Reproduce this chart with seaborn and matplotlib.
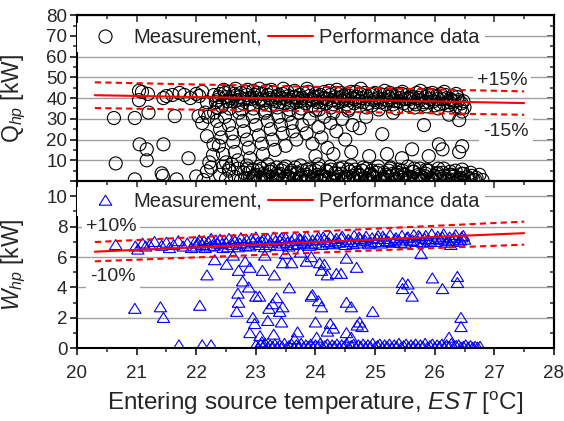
import numpy as np
import pandas as pd
import seaborn as sns
import matplotlib.pyplot as plt
from matplotlib.lines import Line2D
from matplotlib.ticker import MultipleLocator

q_meas_left = [(20.62, 30.4), (20.65, 8.5), (20.97, 30.4), (21.04, 43.5), (21.09, 43.0), (21.19, 42.0),
               (21.04, 39.0), (21.05, 17.7), (21.17, 15.3), (21.17, 10.0), (21.20, 33.0), (20.97, 0.8),
               (21.45, 17.7), (21.45, 40.0), (21.50, 41.0), (21.42, 3.7), (21.44, 2.5), (21.64, 31.3),
               (21.67, 0.8), (21.87, 11.0), (21.60, 41.5), (21.80, 41.5), (21.90, 40.0), (22.00, 42.0),
               (22.04, 31.3), (22.10, 28.0), (22.15, 33.0), (22.18, 4.7), (22.00, 2.2), (22.20, 31.0),
               (22.18, 21.6), (22.05, 41.0), (22.10, 43.0), (22.18, 38.0), (21.72, 42.5), (22.22, 9.0),
               (22.29, 17.7), (22.25, 6.5), (22.28, 12.5), (22.12, 0.5)]

q_meas_band = [(22.30, 41.5), (22.35, 39.0), (22.40, 42.0), (22.45, 37.5), (22.50, 40.5), (22.55, 43.0),
               (22.60, 38.5), (22.65, 41.0), (22.70, 36.5), (22.75, 42.5), (22.80, 39.5), (22.85, 41.5),
               (22.90, 37.0), (22.95, 43.5), (23.00, 40.0), (23.05, 38.0), (23.10, 42.0), (23.15, 39.0),
               (23.20, 41.5), (23.25, 36.5), (23.30, 43.0), (23.35, 40.5), (23.40, 38.0), (23.45, 42.0),
               (23.50, 39.5), (23.55, 41.0), (23.60, 37.0), (23.65, 43.5), (23.70, 40.0), (23.75, 38.5),
               (23.80, 42.5), (23.85, 39.0), (23.90, 41.0), (23.95, 36.5), (24.00, 42.0), (24.05, 40.5),
               (24.10, 38.0), (24.15, 43.0), (24.20, 39.5), (24.25, 41.5), (24.30, 37.0), (24.35, 42.5),
               (24.40, 40.0), (24.45, 38.5), (24.50, 41.5), (24.55, 39.0), (24.60, 43.0), (24.65, 37.5),
               (24.70, 40.5), (24.75, 42.0), (24.80, 38.0), (24.85, 41.0), (24.90, 39.5), (24.95, 36.5),
               (25.00, 42.5), (25.05, 40.0), (25.10, 38.0), (25.15, 41.5), (25.20, 39.0), (25.25, 42.5),
               (25.30, 37.0), (25.35, 40.5), (25.40, 38.5), (25.45, 42.0), (25.50, 39.5), (25.55, 36.5),
               (25.60, 41.0), (25.65, 38.0), (25.70, 42.5), (25.75, 39.0), (25.80, 37.0), (25.85, 40.5),
               (25.90, 38.0), (25.95, 41.5), (26.00, 36.5), (26.05, 39.5), (26.10, 42.0), (26.15, 37.5),
               (26.20, 40.0), (26.25, 38.0), (26.30, 41.0), (26.35, 36.0), (26.40, 39.0), (26.45, 37.5),
               (26.50, 35.5),
               (22.33, 38.0), (22.38, 40.5), (22.43, 36.0), (22.48, 42.5), (22.53, 38.5), (22.58, 40.0),
               (22.63, 42.0), (22.68, 39.0), (22.73, 40.5), (22.78, 37.5), (22.83, 43.0), (22.88, 40.0),
               (22.93, 39.5), (22.98, 41.5), (23.03, 42.5), (23.08, 39.5), (23.13, 37.5), (23.18, 43.5),
               (23.23, 40.0), (23.28, 39.5), (23.33, 38.5), (23.38, 41.5), (23.43, 40.0), (23.48, 37.5),
               (23.53, 43.0), (23.58, 39.0), (23.63, 40.5), (23.68, 38.0), (23.73, 41.5), (23.78, 40.0),
               (23.83, 37.5), (23.88, 43.0), (23.93, 39.5), (23.98, 40.5), (24.03, 38.0), (24.08, 41.5),
               (24.13, 40.0), (24.18, 37.5), (24.23, 43.5), (24.28, 39.0), (24.33, 40.5), (24.38, 38.0),
               (24.43, 42.5), (24.48, 39.5), (24.53, 37.0), (24.58, 41.0), (24.63, 40.0), (24.68, 43.0),
               (24.73, 38.5), (24.78, 40.0), (24.83, 42.5), (24.88, 37.5), (24.93, 41.5), (24.98, 39.0),
               (25.03, 38.0), (25.08, 42.0), (25.13, 39.5), (25.18, 37.0), (25.23, 40.5), (25.28, 41.5),
               (25.33, 38.5), (25.38, 42.0), (25.43, 40.0), (25.48, 37.5), (25.53, 41.5), (25.58, 39.5),
               (25.63, 40.5), (25.68, 37.0), (25.73, 40.0), (25.78, 41.5), (25.83, 38.0), (25.88, 42.0),
               (25.93, 39.5), (25.98, 38.5), (26.03, 41.0), (26.08, 37.0), (26.13, 39.5), (26.18, 41.5),
               (26.23, 36.5), (26.28, 39.0), (26.33, 38.5), (26.38, 40.5), (26.43, 35.0), (26.48, 38.5),
               (22.36, 35.5), (22.46, 44.0), (22.56, 35.0), (22.66, 44.5), (22.76, 34.5), (22.86, 44.0),
               (22.96, 35.0), (23.06, 44.5), (23.16, 34.0), (23.26, 44.0), (23.36, 35.5), (23.46, 44.5),
               (23.56, 34.5), (23.66, 40.5), (23.76, 35.0), (23.86, 44.5), (23.96, 39.0), (24.06, 34.5),
               (24.16, 40.0), (24.26, 35.5), (24.36, 44.0), (24.46, 41.0), (24.56, 35.0), (24.66, 39.5),
               (24.76, 44.5), (24.86, 35.5), (24.96, 42.0), (25.06, 34.5), (25.16, 43.5), (25.26, 39.5),
               (25.36, 35.0), (25.46, 43.0), (25.56, 40.0), (25.66, 35.5), (25.76, 43.5), (25.86, 36.0),
               (25.96, 42.5), (26.06, 35.0), (26.16, 43.0), (26.26, 39.5), (26.36, 42.0), (26.46, 33.5)]

q_meas_mid = [(22.30, 33), (22.35, 29), (22.40, 25), (22.42, 21), (22.38, 17), (22.45, 13), (22.50, 9),
              (22.55, 6), (22.48, 31), (22.55, 27), (22.60, 23), (22.62, 19), (22.65, 14), (22.70, 10),
              (22.72, 33), (22.78, 29), (22.80, 24), (22.85, 20), (22.88, 16), (22.90, 11), (22.95, 31),
              (23.00, 27), (23.05, 22), (23.10, 18), (23.12, 13), (23.15, 33), (23.20, 29), (23.25, 25),
              (23.28, 20), (23.32, 15), (23.38, 31), (23.42, 27), (23.45, 23), (23.50, 17), (23.55, 32),
              (23.60, 28), (23.62, 24), (23.68, 20), (23.72, 33), (23.78, 27), (23.85, 23), (23.90, 30),
              (23.95, 18), (24.00, 34), (24.05, 26), (24.10, 21), (24.15, 31), (24.20, 16), (24.25, 28),
              (24.30, 33), (24.35, 24), (24.45, 30), (24.50, 20), (24.55, 34), (24.62, 27), (24.74, 25.5),
              (24.85, 31), (25.12, 22.6), (25.30, 33), (25.82, 27), (26.41, 29.4), (26.24, 32),
              (26.46, 16.8), (26.41, 14), (26.13, 15.3), (25.62, 15.3), (25.90, 12), (26.07, 17.7),
              (25.45, 11), (25.20, 13), (24.90, 12), (24.60, 14), (24.30, 13), (24.00, 12)]

q_meas_low = [(22.40, 3), (22.45, 7), (22.50, 1), (22.55, 5), (22.60, 8), (22.65, 2), (22.70, 6),
              (22.75, 0.5), (22.80, 4), (22.85, 7.5), (22.90, 1.5), (22.95, 5.5), (23.00, 3), (23.05, 0),
              (23.10, 6), (23.15, 2.5), (23.20, 8), (23.25, 4.5), (23.30, 1), (23.35, 6.5), (23.40, 3.5),
              (23.45, 0.5), (23.50, 7), (23.55, 2), (23.60, 5), (23.65, 1), (23.70, 4), (23.75, 7.5),
              (23.80, 0), (23.85, 3), (23.90, 6), (23.95, 1.5), (24.00, 5), (24.05, 8), (24.10, 2.5),
              (24.15, 0.5), (24.20, 4.5), (24.25, 7), (24.30, 1), (24.35, 3.5), (24.40, 6), (24.45, 0),
              (24.50, 2), (24.55, 5.5), (24.60, 7.5), (24.65, 1), (24.70, 4), (24.75, 2.5), (24.80, 6.5),
              (24.85, 0.5), (24.90, 3), (24.95, 5), (25.00, 1.5), (25.05, 7), (25.10, 0), (25.15, 4),
              (25.20, 2), (25.25, 6), (25.30, 3.5), (25.35, 1), (25.40, 5.5), (25.45, 0.5), (25.50, 3),
              (25.55, 7), (25.60, 2), (25.65, 4.5), (25.70, 0), (25.75, 6), (25.80, 1.5), (25.85, 3.5),
              (25.90, 5), (25.95, 0.5), (26.00, 2.5), (26.05, 4), (26.10, 1), (26.15, 6), (26.20, 0),
              (26.25, 3), (26.30, 2), (26.35, 5), (26.40, 1), (26.45, 3.5), (26.50, 0), (26.55, 2),
              (26.60, 4), (26.65, 0.5), (26.70, 1.5), (26.75, 3), (26.80, 0.5),
              (22.82, 1), (22.88, 4), (22.93, 0), (22.98, 2.5), (23.03, 5), (23.08, 1.5), (23.13, 3.5),
              (23.18, 0.5), (23.23, 4.5), (23.28, 2), (23.33, 0), (23.38, 3), (23.43, 5), (23.48, 1),
              (23.53, 2.5), (23.58, 4), (23.63, 0.5), (23.68, 3.5), (23.73, 1.5), (23.78, 5), (23.83, 0),
              (23.88, 2), (23.93, 4.5), (23.98, 1), (24.03, 3), (24.08, 0.5), (24.13, 2.5), (24.18, 5),
              (24.23, 1.5), (24.28, 0), (24.33, 4), (24.38, 2), (24.43, 3.5), (24.48, 0.5), (24.53, 1),
              (24.58, 4.5), (24.63, 2.5), (24.68, 0), (24.73, 3), (24.78, 5), (24.83, 1.5), (24.88, 0.5),
              (24.93, 3.5), (24.98, 2), (25.03, 4), (25.08, 0), (25.13, 1), (25.18, 3), (25.23, 5),
              (25.28, 2.5), (25.33, 0.5), (25.38, 4), (25.43, 1.5), (25.48, 3.5), (25.53, 0), (25.58, 2),
              (25.63, 4.5), (25.68, 1), (25.73, 3), (25.78, 0.5), (25.83, 2.5), (25.88, 5), (25.93, 1.5),
              (25.98, 0), (26.03, 3.5), (26.08, 2), (26.13, 4), (26.18, 0.5), (26.23, 1), (26.28, 3),
              (26.33, 2.5), (26.38, 0), (26.43, 1.5), (26.48, 3.5), (26.58, 1), (26.68, 0.5),
              (22.86, 6), (22.96, 2), (23.06, 7), (23.16, 1), (23.26, 5.5), (23.36, 2.5), (23.46, 6),
              (23.56, 1), (23.66, 6.5), (23.76, 2.5), (23.86, 5.5), (23.96, 0.5), (24.06, 6), (24.16, 2),
              (24.26, 5.5), (24.36, 0.5), (24.46, 6.5), (24.56, 2), (24.66, 5.5), (24.76, 1), (24.86, 6),
              (24.96, 2.5), (25.06, 5), (25.16, 1), (25.26, 6.5), (25.36, 3), (25.46, 5), (25.56, 1.5),
              (25.66, 6), (25.76, 2.5), (25.86, 5.5), (25.96, 1), (26.06, 6), (26.16, 2.5), (26.26, 4.5),
              (26.36, 1), (26.46, 5.5), (26.62, 2.5)]

# ---- measured power input W_hp [kW] ----
w_meas_left = [(20.65, 6.8), (20.98, 6.7), (21.02, 6.5), (21.10, 6.9), (21.15, 6.7), (21.22, 6.8),
               (21.30, 7.0), (21.42, 6.75), (21.50, 6.95), (21.55, 6.6), (21.62, 6.8), (21.70, 7.05),
               (21.78, 6.7), (21.85, 6.9), (21.92, 6.6), (21.98, 7.0)]

w_meas_band = [(22.00, 6.7), (22.05, 7.1), (22.10, 6.8), (22.15, 6.6), (22.20, 7.0), (22.25, 7.2),
               (22.30, 6.75), (22.35, 6.9), (22.40, 7.15), (22.45, 6.6), (22.50, 6.95), (22.55, 7.2),
               (22.60, 6.8), (22.65, 7.05), (22.70, 6.65), (22.75, 7.25), (22.80, 6.9), (22.85, 7.1),
               (22.90, 6.7), (22.95, 7.0), (23.00, 7.3), (23.05, 6.8), (23.10, 7.05), (23.15, 6.65),
               (23.20, 7.2), (23.25, 6.95), (23.30, 7.3), (23.35, 6.75), (23.40, 7.1), (23.45, 6.9),
               (23.50, 7.25), (23.55, 6.7), (23.60, 7.05), (23.65, 7.3), (23.70, 6.85), (23.75, 7.15),
               (23.80, 6.95), (23.85, 7.35), (23.90, 6.75), (23.95, 7.1), (24.00, 6.9), (24.05, 7.3),
               (24.10, 6.8), (24.15, 7.15), (24.20, 7.0), (24.25, 7.35), (24.30, 6.85), (24.35, 7.2),
               (24.40, 6.95), (24.45, 7.35), (24.50, 6.8), (24.55, 7.15), (24.60, 7.0), (24.65, 7.4),
               (24.70, 6.9), (24.75, 7.2), (24.80, 7.05), (24.85, 7.35), (24.90, 6.85), (24.95, 7.25),
               (25.00, 7.0), (25.05, 7.4), (25.10, 6.9), (25.15, 7.2), (25.20, 7.05), (25.25, 7.45),
               (25.30, 6.95), (25.35, 7.25), (25.40, 7.1), (25.45, 7.4), (25.50, 6.9), (25.55, 7.3),
               (25.60, 7.05), (25.65, 7.45), (25.70, 7.0), (25.75, 7.3), (25.80, 6.95), (25.85, 7.4),
               (25.90, 7.1), (25.95, 7.5), (26.00, 7.0), (26.05, 7.35), (26.10, 7.15), (26.15, 7.5),
               (26.20, 6.95), (26.25, 7.3), (26.30, 7.1), (26.35, 7.45), (26.40, 7.0), (26.45, 7.3),
               (26.50, 7.15),
               (22.03, 6.9), (22.13, 7.05), (22.23, 6.7), (22.33, 7.1), (22.43, 6.85), (22.53, 6.65),
               (22.63, 7.15), (22.73, 6.9), (22.83, 6.75), (22.93, 7.2), (23.03, 6.95), (23.13, 7.15),
               (23.23, 6.8), (23.33, 7.05), (23.43, 7.25), (23.53, 6.95), (23.63, 6.8), (23.73, 7.2),
               (23.83, 7.05), (23.93, 6.85), (24.03, 7.15), (24.13, 7.3), (24.23, 6.9), (24.33, 7.05),
               (24.43, 7.25), (24.53, 7.0), (24.63, 6.85), (24.73, 7.3), (24.83, 7.1), (24.93, 6.95),
               (25.03, 7.2), (25.13, 7.35), (25.23, 7.0), (25.33, 7.15), (25.43, 6.95), (25.53, 7.25),
               (25.63, 7.1), (25.73, 7.4), (25.83, 7.2), (25.93, 7.0), (26.03, 7.2), (26.13, 7.3),
               (26.23, 7.05), (26.33, 7.25), (26.43, 7.1), (26.48, 7.4), (26.27, 6.8)]

w_meas_mid = [(20.97, 2.6), (21.40, 2.7), (21.45, 2.0), (21.71, 0.2), (22.10, 0.2), (22.25, 0.2),
              (22.06, 2.8), (22.18, 4.8), (22.31, 5.8), (22.51, 5.5), (22.62, 6.1), (22.71, 5.1),
              (22.70, 3.6), (22.71, 3.0), (22.68, 2.4), (22.78, 4.4), (22.82, 5.7), (22.88, 4.0),
              (22.90, 5.3), (22.95, 2.0), (22.98, 1.6), (22.90, 1.0), (23.00, 3.4), (23.06, 3.4),
              (23.07, 0.8), (23.10, 0.4), (23.11, 5.1), (23.15, 6.1), (23.20, 1.8), (23.22, 2.6),
              (23.28, 2.9), (23.30, 0.9), (23.31, 4.8), (23.35, 3.3), (23.40, 2.4), (23.43, 1.7),
              (23.45, 2.7), (23.45, 5.6), (23.50, 6.2), (23.56, 3.95), (23.60, 5.6), (23.65, 0.6),
              (23.70, 1.05), (23.75, 6.3), (23.85, 5.7), (23.93, 6.0), (23.93, 3.4), (23.95, 3.5),
              (24.00, 1.7), (24.02, 0.7), (24.05, 3.1), (24.07, 5.6), (24.10, 2.7), (24.10, 5.1),
              (24.15, 5.5), (24.20, 4.8), (24.20, 1.1), (24.25, 1.6), (24.30, 1.3), (24.35, 4.9),
              (24.43, 4.9), (24.52, 5.9), (24.52, 3.0), (24.52, 1.0), (24.60, 2.7), (24.60, 0.7),
              (24.69, 5.3), (24.70, 1.5), (24.74, 1.7), (24.78, 1.4), (24.96, 2.4), (25.46, 4.3),
              (25.46, 3.9), (25.55, 4.2), (25.62, 3.4), (25.77, 6.2), (25.96, 4.6), (26.13, 3.9),
              (26.38, 4.7), (26.38, 4.3), (26.44, 2.0), (26.44, 1.4), (26.24, 0.7)]

w_meas_low = [(23.00, 0.2), (23.04, 0.05), (23.08, 0.25), (23.12, 0.1), (23.16, 0.3), (23.20, 0.05),
              (23.24, 0.2), (23.28, 0.1), (23.32, 0.25), (23.36, 0.05), (23.40, 0.2), (23.44, 0.1),
              (23.48, 0.3), (23.52, 0.05), (23.56, 0.15), (23.60, 0.25), (23.64, 0.05), (23.68, 0.2),
              (23.72, 0.1), (23.76, 0.3), (23.80, 0.05), (23.84, 0.2), (23.88, 0.1), (23.92, 0.25),
              (23.96, 0.05), (24.00, 0.2), (24.04, 0.1), (24.08, 0.3), (24.12, 0.05), (24.16, 0.15),
              (24.20, 0.25), (24.24, 0.05), (24.28, 0.2), (24.32, 0.1), (24.36, 0.25), (24.40, 0.05),
              (24.44, 0.2), (24.48, 0.1), (24.52, 0.3), (24.56, 0.05), (24.60, 0.15), (24.64, 0.25),
              (24.68, 0.05), (24.72, 0.2), (24.76, 0.1), (24.80, 0.25), (24.84, 0.05), (24.88, 0.2),
              (24.92, 0.1), (24.96, 0.3), (25.00, 0.05), (25.04, 0.15), (25.08, 0.25), (25.12, 0.05),
              (25.16, 0.2), (25.20, 0.1), (25.24, 0.25), (25.28, 0.05), (25.32, 0.2), (25.36, 0.1),
              (25.40, 0.3), (25.44, 0.05), (25.48, 0.15), (25.52, 0.25), (25.56, 0.05), (25.60, 0.2),
              (25.64, 0.1), (25.68, 0.25), (25.72, 0.05), (25.76, 0.2), (25.80, 0.1), (25.84, 0.3),
              (25.88, 0.05), (25.92, 0.15), (25.96, 0.25), (26.00, 0.05), (26.04, 0.2), (26.08, 0.1),
              (26.12, 0.25), (26.16, 0.05), (26.20, 0.2), (26.24, 0.1), (26.28, 0.3), (26.32, 0.05),
              (26.36, 0.15), (26.40, 0.2), (26.44, 0.05), (26.48, 0.1), (26.52, 0.2), (26.56, 0.05),
              (26.60, 0.15), (26.64, 0.05), (26.68, 0.1), (26.72, 0.05), (26.76, 0.1)]

# ---- performance data (manufacturer) ----
est_perf = [20.3, 22.0, 24.0, 26.0, 27.5]
q_perf = [41.4, 40.5, 39.5, 38.4, 37.6]
w_perf = [6.35, 6.64, 6.98, 7.32, 7.57]
q_band = 0.15
w_band = 0.10

xticks = [20, 21, 22, 23, 24, 25, 26, 27, 28]

df_q = pd.DataFrame(q_meas_left + q_meas_band + q_meas_mid + q_meas_low, columns=["EST", "Q"])
df_w = pd.DataFrame(w_meas_left + w_meas_band + w_meas_mid + w_meas_low, columns=["EST", "W"])
perf = pd.DataFrame({"EST": est_perf, "Q": q_perf, "W": w_perf})
perf["Q_hi"] = perf["Q"] * (1 + q_band)
perf["Q_lo"] = perf["Q"] * (1 - q_band)
perf["W_hi"] = perf["W"] * (1 + w_band)
perf["W_lo"] = perf["W"] * (1 - w_band)

sns.set_style("white")
plt.rcParams["font.family"] = ["Liberation Sans", "DejaVu Sans"]
plt.rcParams["mathtext.fontset"] = "custom"
plt.rcParams["mathtext.rm"] = "Liberation Sans"
plt.rcParams["mathtext.it"] = "Liberation Sans:italic"

tri = [(-1, -0.75), (1, -0.75), (0, 0.85), (-1, -0.75)]
dash = (0, (3, 2))

fig = plt.figure(figsize=(5.64, 4.21), dpi=100)
ax1 = fig.add_axes([0.1365, 0.570, 0.8457, 0.394])
ax2 = fig.add_axes([0.1365, 0.173, 0.8457, 0.397])

# top: heating capacity
sns.scatterplot(data=df_q, x="EST", y="Q", ax=ax1, marker="o", s=88,
                facecolors="none", edgecolor="black", linewidth=0.8, zorder=2)
sns.lineplot(data=perf, x="EST", y="Q", ax=ax1, color="red", lw=1.5, zorder=4)
sns.lineplot(data=perf, x="EST", y="Q_hi", ax=ax1, color="red", lw=1.5, ls=dash, zorder=4)
sns.lineplot(data=perf, x="EST", y="Q_lo", ax=ax1, color="red", lw=1.5, ls=dash, zorder=4)

# bottom: power input
sns.scatterplot(data=df_w, x="EST", y="W", ax=ax2, marker=tri, s=80,
                facecolors="none", edgecolor="blue", linewidth=0.8, zorder=2)
sns.lineplot(data=perf, x="EST", y="W", ax=ax2, color="red", lw=1.5, zorder=4)
sns.lineplot(data=perf, x="EST", y="W_hi", ax=ax2, color="red", lw=1.5, ls=dash, zorder=4)
sns.lineplot(data=perf, x="EST", y="W_lo", ax=ax2, color="red", lw=1.5, ls=dash, zorder=4)

for ax, ymax, ystep, ymin_step in [(ax1, 80, 10, 5), (ax2, 11, 2, 1)]:
    ax.set_xlim(20, 28)
    ax.set_ylim(0, ymax)
    ax.set_xticks(xticks)
    ax.xaxis.set_minor_locator(MultipleLocator(0.5))
    ax.yaxis.set_major_locator(MultipleLocator(ystep))
    ax.yaxis.set_minor_locator(MultipleLocator(ymin_step))
    ax.grid(axis="y", color="#a0a0a0", lw=1.0)
    ax.set_axisbelow(True)
    for sp in ax.spines.values():
        sp.set_linewidth(1.5)
        sp.set_color("black")
    ax.tick_params(which="major", direction="out", length=5, width=1.1, labelsize=13.5, pad=2,
                   bottom=True, left=True, color="black")
    ax.tick_params(which="minor", direction="out", length=3, width=1.1, bottom=True, left=True)
    ax.tick_params(axis="x", which="major", pad=7)
    top = ax.secondary_xaxis("top")
    top.set_xticks(xticks)
    top.xaxis.set_minor_locator(MultipleLocator(0.5))
    top.tick_params(which="both", direction="in", labeltop=False, width=1.1)
    top.tick_params(which="major", length=5)
    top.tick_params(which="minor", length=3)
    right = ax.secondary_yaxis("right")
    right.yaxis.set_major_locator(MultipleLocator(ystep))
    right.yaxis.set_minor_locator(MultipleLocator(ymin_step))
    right.tick_params(which="both", direction="in", labelright=False, width=1.1)
    right.tick_params(which="major", length=5)
    right.tick_params(which="minor", length=3)
    for sp in list(top.spines.values()) + list(right.spines.values()):
        sp.set_linewidth(1.5)

ax1.set_yticks(range(0, 81, 10))
ax1.set_yticklabels([""] + [str(v) for v in range(10, 81, 10)])
ax1.tick_params(axis="x", labelbottom=False)
ax2.set_yticks(range(0, 11, 2))

ax1.set_xlabel("")
ax1.set_ylabel(r"Q$_{\it hp}$ [kW]", fontsize=16.5)
ax2.set_ylabel(r"$\it W_{hp}$ [kW]", fontsize=16.5)
ax1.yaxis.set_label_coords(-0.1025, 0.5)
ax2.yaxis.set_label_coords(-0.1025, 0.5)
ax2.set_xlabel(r"Entering source temperature, $\it EST$ [$\mathregular{^o}$C]", fontsize=17.5, labelpad=6)

box = dict(facecolor="white", edgecolor="none", pad=3)
ax1.text(27.13, 48.5, "+15%", fontsize=14, ha="center", va="center", bbox=box, zorder=3)
ax1.text(27.2, 24.0, "-15%", fontsize=14, ha="center", va="center", bbox=box, zorder=3)
ax2.text(20.57, 8.0, "+10%", fontsize=14, ha="center", va="center", bbox=box, zorder=3)
ax2.text(20.6, 4.7, "-10%", fontsize=14, ha="center", va="center", bbox=box, zorder=3)

perf_handle = Line2D([], [], color="red", lw=1.5)
circ_handle = Line2D([], [], marker="o", ls="none", mfc="none", mec="black", ms=9.4, mew=0.8)
tri_handle = Line2D([], [], marker=tri, ls="none", mfc="none", mec="blue", ms=9.0, mew=0.8)
for ax, h, yc in [(ax1, circ_handle, 0.867), (ax2, tri_handle, 0.880)]:
    ax.legend([h, perf_handle], ["Measurement,", "Performance data"], ncol=2, loc="center left",
              bbox_to_anchor=(0.0, yc), fontsize=14.5, frameon=True, facecolor="white",
              edgecolor="none", framealpha=1, handlelength=2.24, handletextpad=0.3,
              columnspacing=0.3, borderpad=0.25, borderaxespad=0.0, fancybox=False)

fig.savefig("out.png", dpi=100)
